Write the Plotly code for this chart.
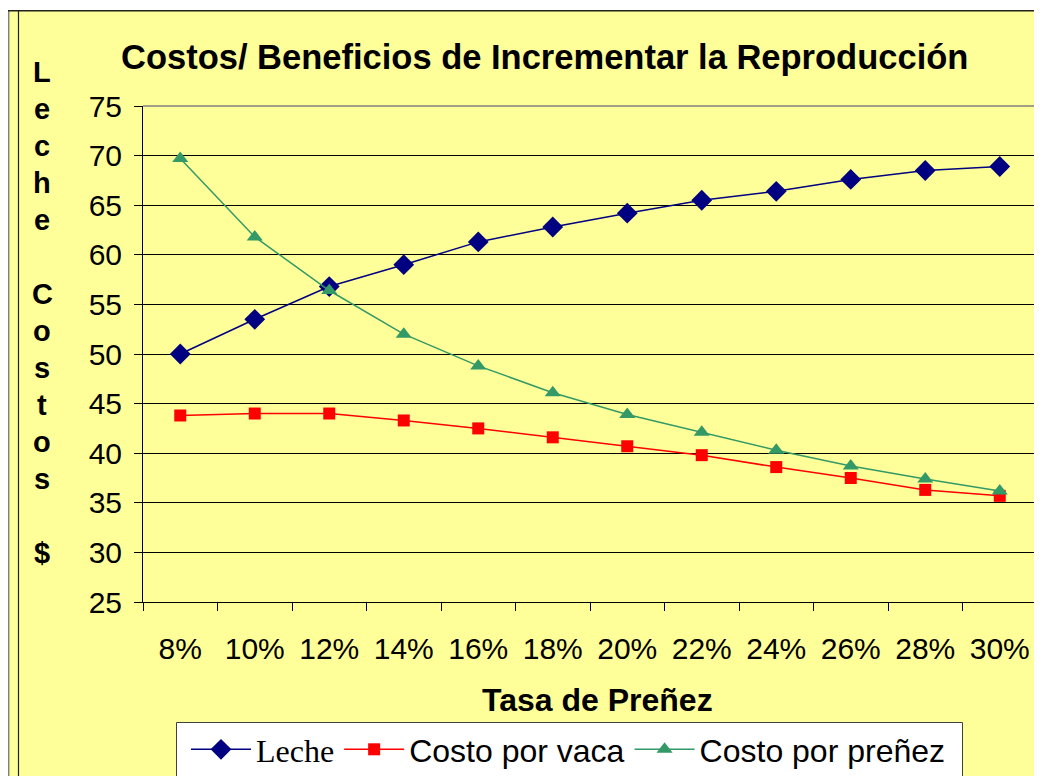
import plotly.graph_objects as go

categories = ["8%", "10%", "12%", "14%", "16%", "18%", "20%", "22%", "24%", "26%", "28%", "30%"]
leche = [50.0, 53.5, 56.8, 59.0, 61.3, 62.8, 64.2, 65.5, 66.4, 67.6, 68.5, 68.9]
costo_vaca = [43.8, 44.0, 44.0, 43.3, 42.5, 41.6, 40.7, 39.8, 38.6, 37.5, 36.3, 35.7]
costo_prenez = [69.7, 61.8, 56.4, 52.0, 48.8, 46.1, 43.9, 42.1, 40.3, 38.7, 37.4, 36.2]
y_ticks = [25, 30, 35, 40, 45, 50, 55, 60, 65, 70, 75]

OFF = 8  # page body margin
VW, VH = 1042, 776
W, H = VW - OFF, VH - OFF
# plot area in viewport coords
L, R, T, B = 143, 1037, 106, 602
PW, PH = R - L, B - T
YELLOW = "#FFFF99"


def px(x):  # viewport x -> paper
    return (x - L) / PW


def py(y):  # viewport y -> paper
    return (B - y) / PH


fig = go.Figure()
fig.add_trace(go.Scatter(
    x=categories, y=leche,
    name="<span style='font-family:\"Liberation Serif\", \"Times New Roman\", serif'>Leche</span>",
    mode="lines+markers", line=dict(color="#000080", width=1.5),
    marker=dict(symbol="diamond", size=16, color="#000080")))
fig.add_trace(go.Scatter(
    x=categories, y=costo_vaca, name="Costo por vaca",
    mode="lines+markers", line=dict(color="#FF0000", width=1.5),
    marker=dict(symbol="square", size=12, color="#FF0000")))
fig.add_trace(go.Scatter(
    x=categories, y=costo_prenez, name="Costo por preñez",
    mode="lines+markers", line=dict(color="#339966", width=1.5),
    marker=dict(symbol="triangle-up", size=14, color="#339966")))

shapes = [
    dict(type="rect", xref="paper", yref="paper", x0=px(8), x1=px(VW + 20), y0=py(10), y1=py(VH + 20),
         fillcolor=YELLOW, line=dict(width=0), layer="below"),
    dict(type="line", xref="paper", yref="paper", x0=px(8.7), x1=px(8.7), y0=py(10), y1=py(VH + 20),
         line=dict(color="#808080", width=1.5)),
    dict(type="line", xref="paper", yref="paper", x0=px(8), x1=px(VW + 20), y0=py(10.7), y1=py(10.7),
         line=dict(color="#202020", width=1.5)),
    dict(type="line", xref="paper", yref="paper", x0=px(18.5), x1=px(18.5), y0=py(10), y1=py(VH + 20),
         line=dict(color="#202020", width=1.2)),
    dict(type="line", xref="paper", yref="paper", x0=0, x1=1, y0=1, y1=1,
         line=dict(color="#808080", width=1.5)),
    dict(type="line", xref="paper", yref="paper", x0=1, x1=1, y0=0, y1=1,
         line=dict(color="#A0A0A0", width=1.5)),
    # legend box
    dict(type="rect", xref="paper", yref="paper", x0=px(176.5), x1=px(962.5), y0=py(722.5), y1=py(VH + 20),
         fillcolor="white", line=dict(color="#404040", width=1)),
]

annotations = [
    dict(text="<b>Costos/ Beneficios de Incrementar la Reproducción</b>", xref="paper", yref="paper",
         x=px(544), y=py(57), xanchor="center", yanchor="middle", showarrow=False,
         font=dict(family="Liberation Sans, Arial", size=34.5, color="black")),
    dict(text="<b>Tasa de Preñez</b>", xref="paper", yref="paper",
         x=px(597), y=py(700), xanchor="center", yanchor="middle", showarrow=False,
         font=dict(family="Liberation Sans, Arial", size=32, color="black")),
]

ytitle = "Leche Costos $"
for i, ch in enumerate(ytitle):
    if ch == " ":
        continue
    annotations.append(dict(text=f"<b>{ch}</b>", xref="paper", yref="paper",
                            x=px(42), y=py(72 + 37 * i), xanchor="center", yanchor="middle",
                            showarrow=False,
                            font=dict(family="Liberation Sans, Arial", size=29, color="black")))

fig.update_layout(
    width=W, height=H,
    margin=dict(l=L - OFF, r=VW - R, t=T - OFF, b=VH - B, pad=0, autoexpand=False),
    paper_bgcolor="white",
    plot_bgcolor=YELLOW,
    font=dict(family="Liberation Sans, Arial", size=30, color="black"),
    shapes=shapes,
    annotations=annotations,
    showlegend=True,
    legend=dict(orientation="h", x=px(186), y=py(722), xanchor="left", yanchor="top",
                bgcolor="rgba(0,0,0,0)", borderwidth=0,
                font=dict(family="Liberation Sans, Arial", size=32, color="black"),
                itemwidth=60, tracegroupgap=0),
    xaxis=dict(type="category", categoryorder="array", categoryarray=categories,
               tickson="boundaries", ticks="outside", ticklen=8, tickcolor="black", tickwidth=1,
               showline=True, linecolor="black", linewidth=1, showgrid=False, zeroline=False,
               ticklabelstandoff=20, tickfont=dict(size=30),
               range=[-0.5, len(categories) - 0.5]),
    yaxis=dict(range=[25, 75], tickvals=y_ticks, ticks="outside", ticklen=8, tickcolor="black",
               tickwidth=1, showline=True, linecolor="black", linewidth=1,
               showgrid=True, gridcolor="black", gridwidth=1, zeroline=False,
               ticklabelstandoff=6, tickfont=dict(size=30)),
)

fig.write_html("out.html")
